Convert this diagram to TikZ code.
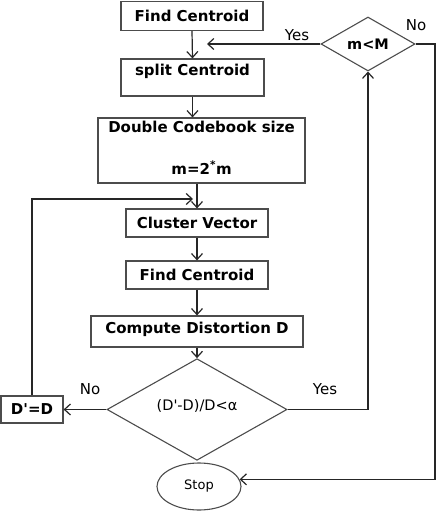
\documentclass[tikz,border=0pt]{standalone}
\usepackage{fontspec}
\setmainfont{DejaVu Sans}
\usetikzlibrary{shapes.geometric,arrows.meta}

\begin{document}
\begin{tikzpicture}[x=1pt, y=-1pt,
    box/.style={draw=black!70, line width=1.2pt, rectangle, minimum height=28pt, inner sep=0pt, font=\fontsize{15}{17}\selectfont\bfseries},
    decision/.style={draw=black!70, line width=1.1pt, diamond, inner sep=0pt},
    arr/.style={draw=black!85, line width=1.2pt, -{Straight Barb[length=6pt,width=11pt]}},
    lbl/.style={font=\fontsize{15}{17}\selectfont}
]
    \useasboundingbox (0,0) rectangle (439,511);

    % Codebook splitting
    \node [box, minimum width=142pt, minimum height=29pt] (find1) at (192,16) {Find Centroid};
    \node [box, minimum width=143pt, minimum height=37pt, text depth=15pt] (split) at (192.5,77.5) {split Centroid};
    \node [box, minimum width=207pt, minimum height=65pt] (double) at (201.5,150.5) {};
    \node [anchor=north, font=\fontsize{15}{17}\selectfont\bfseries] at (double.north) {Double Codebook size};
    \node [anchor=south, font=\fontsize{15}{17}\selectfont\bfseries] at ([yshift=6pt]double.south) {m=2\textsuperscript{*}m};

    % Iteration
    \node [box, minimum width=142pt] (cluster) at (197,223) {Cluster Vector};
    \node [box, minimum width=142pt] (find2) at (197,275) {Find Centroid};
    \node [box, minimum width=212pt, minimum height=31pt, text depth=8pt] (compute) at (197,331.5) {Compute Distortion D};
    \node [decision, minimum width=180pt, minimum height=77pt, font=\fontsize{14.5}{16}\selectfont, text depth=10pt] (crit) at (197,409.5) {(D\textquotesingle-D)/D<α};
    \node [box, minimum width=62pt, minimum height=27pt] (dd) at (32,409.5) {D\textquotesingle=D};
    \node [decision, minimum width=94pt, minimum height=54pt, aspect=1.74, font=\fontsize{14.5}{16}\selectfont\bfseries] (mM) at (368,44) {m<M};
    \node [draw=black!70, line width=1.1pt, ellipse, minimum width=84pt, minimum height=47pt, inner sep=0pt, font=\fontsize{13}{15}\selectfont] (stop) at (199,486.5) {Stop};

    % Connectors
    \coordinate (join) at (193,199);
    \coordinate (yesend) at (207,44);
    \coordinate (corner) at (435,44);
    \draw [arr] (find1.south) -- (split.north);
    \draw [arr] (split.south) -- (split.south |- double.north);
    \draw [arr] (cluster.north |- double.south) -- (cluster.north);
    \draw [arr] (cluster) -- (find2);
    \draw [arr] (find2) -- (compute);
    \draw [arr] (compute) -- (crit);
    \draw [arr] (crit.west) -- (dd.east);
    \draw [arr] (dd.north) |- (join);
    \draw [arr] (crit.east) -| (mM.south);
    \draw [arr] (mM.west) -- (yesend);
    \draw [arr] (mM.east) -- (corner) |- (stop.10);

    % Labels
    \node [lbl] at (297,35) {Yes};
    \node [lbl] at (416,25) {No};
    \node [lbl] at (90,389) {No};
    \node [lbl] at (325,389) {Yes};
\end{tikzpicture}
\end{document}
